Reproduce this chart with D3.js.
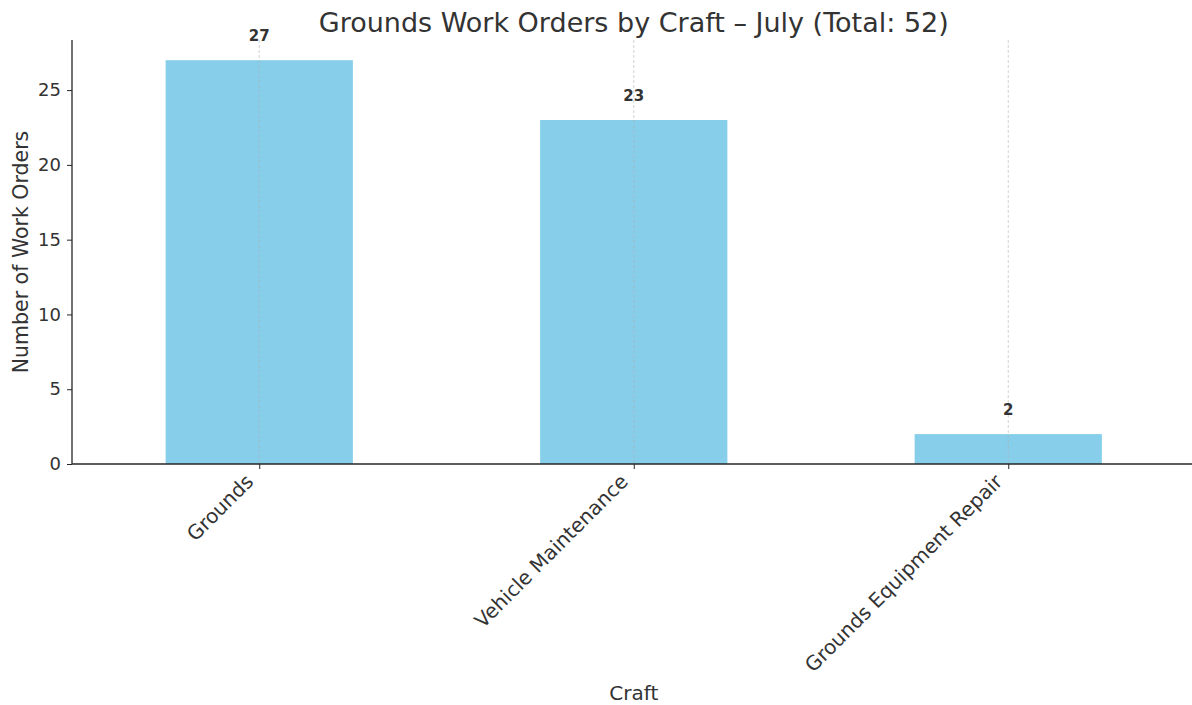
<!DOCTYPE html>
<html>
<head>
<meta charset="utf-8">
<script src="https://cdn.jsdelivr.net/npm/d3@7"></script>
<style>
  html, body { margin: 0; padding: 0; background: #fff; }
  svg { display: block; font-family: "DejaVu Sans", sans-serif; }
</style>
</head>
<body>
<svg id="chart" width="1192" height="705"></svg>
<script>
// Work orders per craft for July
const crafts = ["Grounds", "Vehicle Maintenance", "Grounds Equipment Repair"];
const orders = [27, 23, 2];
const yTicks = [0, 5, 10, 15, 20, 25];
const titleText = "Grounds Work Orders by Craft \u2013 July (Total: 52)";

const svg = d3.select("#chart");
const W = 1192, H = 705;
const plot = { left: 72, right: 1195.5, top: 40, bottom: 464 };
const FONT = "'DejaVu Sans', sans-serif";

// Categorical positions as indices, with half a step of padding on each side
const x = d3.scaleLinear()
  .domain([-0.5, crafts.length - 0.5])
  .range([plot.left, plot.right]);
const step = x(1) - x(0);
const barW = step * 0.5;

const y = d3.scaleLinear()
  .domain([0, d3.max(orders) * 1.05])
  .range([plot.bottom, plot.top]);

const ink = "#333333";
const axisInk = "#262626";

// Bars
svg.append("g").selectAll("rect")
  .data(orders)
  .join("rect")
  .attr("x", (d, i) => x(i) - barW / 2)
  .attr("y", d => y(d))
  .attr("width", barW)
  .attr("height", d => y(0) - y(d))
  .attr("fill", "#87ceeb");

// Vertical dashed grid at each category
svg.append("g").selectAll("line")
  .data(crafts)
  .join("line")
  .attr("x1", (d, i) => x(i)).attr("x2", (d, i) => x(i))
  .attr("y1", plot.top).attr("y2", plot.bottom)
  .attr("stroke", "#b0b0b0")
  .attr("stroke-opacity", 0.7)
  .attr("stroke-width", 0.8)
  .attr("stroke-dasharray", "3,2");

// Y axis
const yAxis = svg.append("g")
  .attr("transform", `translate(${plot.left},0)`)
  .call(d3.axisLeft(y).tickValues(yTicks).tickSize(5).tickPadding(6));
yAxis.select(".domain").attr("d", `M0,${plot.top}V${plot.bottom}`).attr("stroke", axisInk).attr("stroke-width", 1.3);
yAxis.selectAll(".tick line").attr("stroke", axisInk).attr("stroke-width", 1);
yAxis.selectAll(".tick text")
  .attr("fill", ink)
  .style("font-size", "18px")
  .style("font-family", FONT);

// X axis
const xAxis = svg.append("g")
  .attr("transform", `translate(0,${plot.bottom})`)
  .call(d3.axisBottom(x).tickValues(d3.range(crafts.length)).tickFormat(i => crafts[i]).tickSize(5).tickPadding(6));
xAxis.select(".domain").attr("d", `M${plot.left},0H${W}`).attr("stroke", axisInk).attr("stroke-width", 1.3);
xAxis.selectAll(".tick line").attr("stroke", axisInk).attr("stroke-width", 1);
xAxis.selectAll(".tick text")
  .attr("fill", ink)
  .style("font-size", "20px")
  .style("font-family", FONT)
  .attr("text-anchor", "end")
  .attr("dy", null)
  .attr("y", null)
  .attr("transform", "translate(-9,15) rotate(-45)")
  .attr("dominant-baseline", "middle");

// Value labels above bars
svg.append("g").selectAll("text")
  .data(orders)
  .join("text")
  .attr("x", (d, i) => x(i))
  .attr("y", d => y(d) - 19)
  .attr("text-anchor", "middle")
  .attr("fill", ink)
  .style("font-size", "15px")
  .style("font-weight", "bold")
  .style("font-family", FONT)
  .text(d => d);

// Title
svg.append("text")
  .attr("x", (plot.left + plot.right) / 2)
  .attr("y", 32)
  .attr("text-anchor", "middle")
  .attr("fill", ink)
  .style("font-size", "27px")
  .style("font-family", FONT)
  .text(titleText);

// Axis titles
svg.append("text")
  .attr("x", (plot.left + plot.right) / 2)
  .attr("y", 700)
  .attr("text-anchor", "middle")
  .attr("fill", ink)
  .style("font-size", "20px")
  .style("font-family", FONT)
  .text("Craft");

svg.append("text")
  .attr("transform", `translate(28,${(plot.top + plot.bottom) / 2}) rotate(-90)`)
  .attr("text-anchor", "middle")
  .attr("fill", ink)
  .style("font-size", "20.5px")
  .style("font-family", FONT)
  .text("Number of Work Orders");
</script>
</body>
</html>
